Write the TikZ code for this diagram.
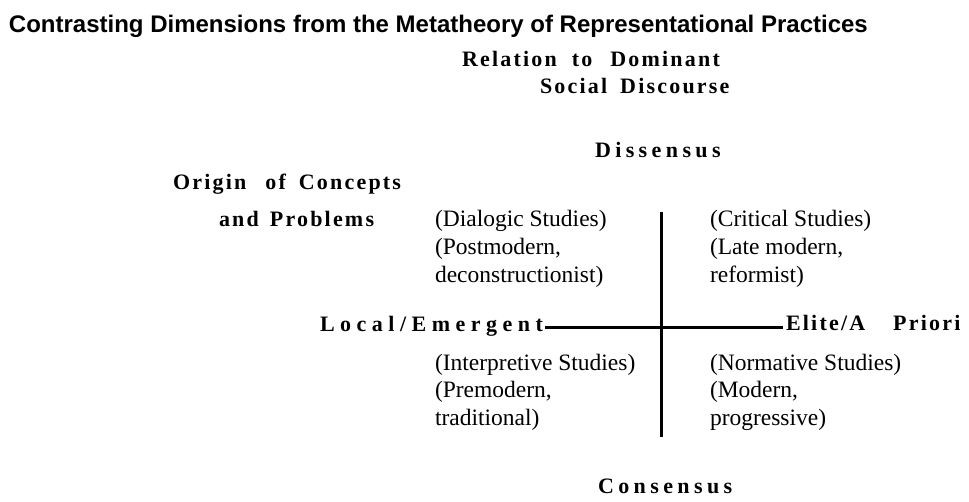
\documentclass[tikz,border=0pt]{standalone}
\usepackage{fontspec}
\setmainfont{Liberation Serif}
\newfontfamily\titlefont{Liberation Sans}
\newfontfamily\hdA{Liberation Serif}[LetterSpace=10]
\newfontfamily\hdB{Liberation Serif}[LetterSpace=20]
\newfontfamily\hdC{Liberation Serif}[LetterSpace=25]
\tikzset{
  txt/.style={anchor=base west, inner sep=0pt, outer sep=0pt},
  titletxt/.style={txt, font=\titlefont\bfseries\fontsize{24}{28}\selectfont},
  headA/.style={txt, font=\hdA\bfseries\fontsize{22}{26}\selectfont},
  headB/.style={txt, font=\hdB\bfseries\fontsize{22}{26}\selectfont},
  headC/.style={txt, font=\hdC\bfseries\fontsize{22}{26}\selectfont},
  body/.style={txt, font=\fontsize{23.5}{28}\selectfont},
  crossline/.style={line width=3pt, line cap=butt},
}
\begin{document}
\begin{tikzpicture}[x=1pt, y=-1pt]
\useasboundingbox[fill=white] (0,0) rectangle (969,502);
% title
\node[titletxt] (title) at (9,33) {Contrasting Dimensions from the Metatheory of Representational Practices};
% vertical dimension heading
\node[headA] (rel) at (462,67) {Relation\hspace{15pt}to\hspace{18pt}Dominant};
\node[headA] (soc) at (540,94) {Social\hspace{13pt}Discourse};
\node[headB] (diss) at (595,158) {Dissensus};
% horizontal dimension heading
\node[headA] (orig) at (173,190) {Origin\hspace{19pt}of\hspace{13pt}Concepts};
\node[headA] (prob) at (219,227) {and\hspace{11pt}Problems};
% upper-left quadrant
\node[body] (dial) at (435,227) {(Dialogic Studies)};
\node[body] (post) at (435,255) {(Postmodern,};
\node[body] (decon) at (435,283) {deconstructionist)};
% upper-right quadrant
\node[body] (crit) at (710,227) {(Critical Studies)};
\node[body] (late) at (710,255) {(Late modern,};
\node[body] (refo) at (710,283) {reformist)};
% axis ends
\node[headC] (local) at (320,332) {Local/Emergent};
\node[headA] (elite) at (786,331) {Elite/A\hspace{28pt}Priori};
% lower-left quadrant
\node[body] (interp) at (435,371) {(Interpretive Studies)};
\node[body] (premod) at (435,398) {(Premodern,};
\node[body] (trad) at (435,425) {traditional)};
% lower-right quadrant
\node[body] (norm) at (710,371) {(Normative Studies)};
\node[body] (mod) at (710,398) {(Modern,};
\node[body] (prog) at (710,425) {progressive)};
% bottom label
\node[headB] (cons) at (598,493) {Consensus};
% axes
\coordinate (vtop) at (661,212);
\coordinate (vbot) at (661,437);
\draw[crossline] (vtop) -- (vbot);
\draw[crossline] ([xshift=2pt]local.east |- 0,328) -- ([xshift=-3pt]elite.west |- 0,328);
\end{tikzpicture}
\end{document}
